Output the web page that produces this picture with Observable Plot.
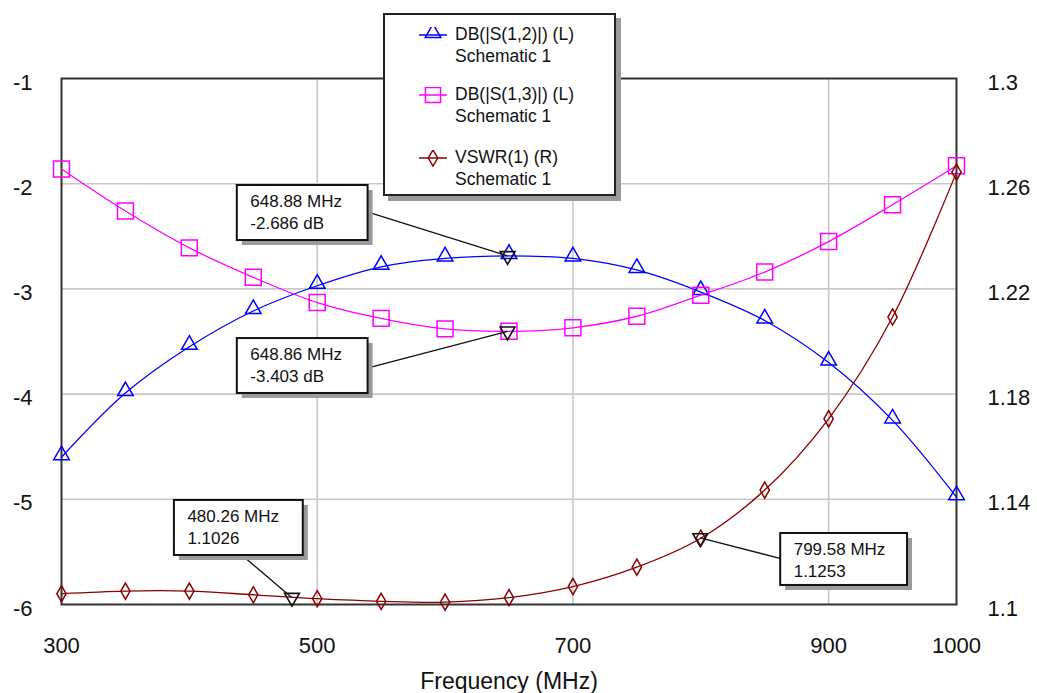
<!DOCTYPE html>
<html><head><meta charset="utf-8">
<script src="https://cdn.jsdelivr.net/npm/d3@7"></script>
<script src="https://cdn.jsdelivr.net/npm/@observablehq/plot@0.6"></script>
<style>
body{margin:0;background:#fff;font-family:"Liberation Sans",Arial,sans-serif;}
#wrap{position:relative;width:1037px;height:693px;overflow:hidden;}
#legend{position:absolute;left:383px;top:13px;width:229px;height:179px;border:2px solid #222;background:#fff;box-shadow:5px 5px 0 #9a9a9a;}
.entry{position:absolute;left:36px;font-size:17.5px;color:#111;line-height:22px;}
.entry svg{position:absolute;left:-2px;top:4px;}
.entry .t{position:absolute;left:34px;top:0;white-space:nowrap;}
</style></head>
<body><div id="wrap"><div id="chart"></div><div id="legend"></div></div>
<script>
// ---- data ----
const freq = [300, 350, 400, 450, 500, 550, 600, 650, 700, 750, 800, 850, 900, 950, 1000];
const s12 = [-4.60, -3.99, -3.55, -3.21, -2.97, -2.79, -2.71, -2.686, -2.71, -2.82, -3.03, -3.30, -3.70, -4.25, -4.98];
const s13 = [-1.86, -2.26, -2.61, -2.89, -3.13, -3.28, -3.38, -3.403, -3.37, -3.26, -3.06, -2.84, -2.55, -2.20, -1.83];
const vswr = [1.1041, 1.1051, 1.1051, 1.1037, 1.1022, 1.1012, 1.1009, 1.1026, 1.1068, 1.1142, 1.1252, 1.1435, 1.1706, 1.2093, 1.2644];

const xTicks = [300, 500, 700, 900, 1000];
const xGrid = [500, 700, 900];
const leftTicks = [-1, -2, -3, -4, -5, -6];
const leftGrid = [-2, -3, -4, -5];
const rightTicks = [1.1, 1.14, 1.18, 1.22, 1.26, 1.3];
const leftDomain = [-6, -1];
const rightDomain = [1.1, 1.3];

const seriesNames = ["DB(|S(1,2)|) (L)", "DB(|S(1,3)|) (L)", "VSWR(1) (R)"];
const seriesSub = ["Schematic 1", "Schematic 1", "Schematic 1"];

// markers (readouts)
const markFreq = [648.88, 648.86, 480.26, 799.58];
const markVal = [-2.686, -3.403, 1.1026, 1.1253];
const markAxis = ["L", "L", "R", "R"];
const markLabels = ["648.88 MHz\n-2.686 dB", "648.86 MHz\n-3.403 dB", "480.26 MHz\n1.1026", "799.58 MHz\n1.1253"];
// readout box placement (in left-axis data units)
const boxX1 = [437.5, 437.5, 388.3, 862.5];
const boxX2 = [539.8, 539.8, 489.1, 961.7];
const boxTop = [-2.017, -3.472, -5.011, -5.325];
const boxBot = [-2.540, -3.994, -5.534, -5.819];
const leadX = [539.8, 539.8, 441.4, 862.5];
const leadY = [-2.27, -3.75, -5.534, -5.563];

// ---- build ----
const toLeft = v => leftDomain[0] + (v - rightDomain[0]) / (rightDomain[1] - rightDomain[0]) * (leftDomain[1] - leftDomain[0]);
const fromLeft = y => rightDomain[0] + (y - leftDomain[0]) / (leftDomain[1] - leftDomain[0]) * (rightDomain[1] - rightDomain[0]);

const colors = ["#0000ff", "#ff00ff", "#8b0000"];
const symbols = ["triangle", "square", "diamond"];
const sizes = [5.8, 9, 4.9];
const dys = [-2, 0, 0];

const rows = s => freq.map((f, i) => ({f, v: s[i]}));
const d12 = rows(s12), d13 = rows(s13), dv = freq.map((f, i) => ({f, v: toLeft(vswr[i])}));
const ann = markFreq.map((f, i) => ({
  f, v: markAxis[i] === "L" ? markVal[i] : toLeft(markVal[i]),
  label: markLabels[i], x1: boxX1[i], x2: boxX2[i], y1: boxTop[i], y2: boxBot[i], lx: leadX[i], ly: leadY[i]
}));

const font = 22;
const chart = Plot.plot({
  width: 1037, height: 693,
  marginLeft: 61, marginRight: 81, marginTop: 78, marginBottom: 89,
  style: {fontFamily: '"Liberation Sans", Arial, sans-serif', color: "#111", background: "#fff"},
  x: {domain: [300, 1000]},
  y: {domain: leftDomain},
  marks: [
    Plot.ruleX(xGrid, {stroke: "#c8c8c8", strokeWidth: 1.6}),
    Plot.ruleY(leftGrid, {stroke: "#c8c8c8", strokeWidth: 1.6}),
    Plot.frame({stroke: "#333", strokeWidth: 2}),
    Plot.axisX(xTicks, {tickSize: 0, tickPadding: 33, fontSize: font, tickFormat: d => String(d), label: null}),
    Plot.axisY(leftTicks, {anchor: "left", tickSize: 0, tickPadding: 29, dy: 4, fontSize: font, tickFormat: d => String(d), label: null}),
    Plot.axisY(rightTicks.map(toLeft), {anchor: "right", tickSize: 0, tickPadding: 31, dy: 4, fontSize: font, tickFormat: d => String(+fromLeft(d).toFixed(2)), label: null}),
    Plot.text(["Frequency (MHz)"], {frameAnchor: "bottom", dy: 77, fontSize: 23, lineAnchor: "middle"}),
    ...[d12, d13, dv].flatMap((d, k) => [
      Plot.line(d, {x: "f", y: "v", stroke: colors[k], strokeWidth: 1.3, curve: "catmull-rom"}),
      Plot.dot(d, {x: "f", y: "v", symbol: symbols[k], r: sizes[k], stroke: colors[k], strokeWidth: 1.5, fill: "none", dy: dys[k]})
    ]),
    Plot.link(ann, {x1: "lx", y1: "ly", x2: "f", y2: "v", stroke: "#111", strokeWidth: 1.3}),
    Plot.dot(ann, {x: "f", y: "v", symbol: "triangle", rotate: 180, r: 5.5, stroke: "#111", strokeWidth: 1.6, fill: "none"}),
    Plot.rect(ann, {x1: "x1", x2: "x2", y1: "y1", y2: "y2", fill: "#9a9a9a", dx: 5, dy: 5}),
    Plot.rect(ann, {x1: "x1", x2: "x2", y1: "y1", y2: "y2", fill: "#fff", stroke: "#111", strokeWidth: 2}),
    Plot.text(ann, {x: "x1", y: "y1", text: "label", textAnchor: "start", lineAnchor: "top", dx: 13, dy: 6, fontSize: 17, lineHeight: 1.3, fill: "#111"})
  ]
});
document.getElementById("chart").appendChild(chart);

// legend (HTML overlay)
const legend = document.getElementById("legend");
const tops = [8, 68, 131];
seriesNames.forEach((name, k) => {
  const e = document.createElement("div");
  e.className = "entry";
  e.style.top = tops[k] + "px";
  const sym = d3.symbol(d3[{triangle: "symbolTriangle", square: "symbolSquare", diamond: "symbolDiamond"}[symbols[k]]], Math.PI * sizes[k] * sizes[k] * (k === 1 ? 0.9 : 1))();
  e.innerHTML = `<svg width="30" height="20" viewBox="0 0 30 20"><line x1="0" x2="28" y1="8" y2="8" stroke="${colors[k]}" stroke-width="1.5"/><path d="${sym}" transform="translate(14,${k === 0 ? 6 : 8})" fill="none" stroke="${colors[k]}" stroke-width="1.5"/></svg><div class="t">${name}<br>${seriesSub[k]}</div>`;
  legend.appendChild(e);
});
</script></body></html>
